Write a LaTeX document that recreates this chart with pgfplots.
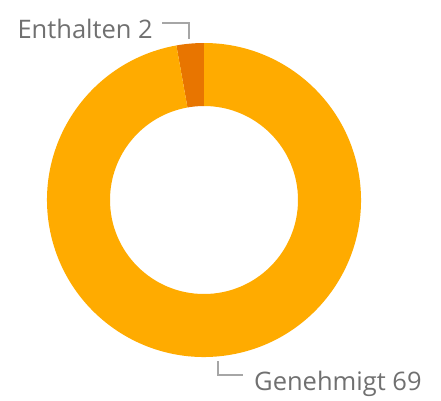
\documentclass[border=0pt]{standalone}
\usepackage{pgfplots}
\pgfplotsset{compat=1.18}
\usepackage{pgfplotstable}
\usepackage{fontspec}
\setmainfont{Open Sans}
\definecolor{cMain}{HTML}{FFAB00}
\definecolor{cSmall}{HTML}{E87500}
\definecolor{cText}{HTML}{707070}
\definecolor{cLine}{HTML}{A6A6A6}
\pgfplotstableread{
label value
Enthalten 2
Genehmigt 69
}\slices
\pgfplotstablegetelem{0}{value}\of\slices \let\vA\pgfplotsretval
\pgfplotstablegetelem{1}{value}\of\slices \let\vB\pgfplotsretval
\pgfmathsetmacro\tot{\vA+\vB}
\pgfmathsetmacro\aS{90}
\pgfmathsetmacro\aM{90+360*\vA/\tot}
\pgfmathsetmacro\aE{90+360}
\def\cx{204}\def\cy{200}\def\Ro{157}\def\Ri{94}
\begin{document}
\begin{tikzpicture}
\begin{axis}[x=1pt,y=1pt,xmin=0,xmax=441,ymin=0,ymax=400,hide axis,scale only axis,clip=false]
\path (axis cs:0,0) rectangle (axis cs:441,400);
% Enthalten slice
\fill[cSmall] (axis cs:{\cx+\Ro*cos(\aS)},{\cy+\Ro*sin(\aS)}) arc[start angle=\aS,end angle=\aM,radius=\Ro pt]
 -- (axis cs:{\cx+\Ri*cos(\aM)},{\cy+\Ri*sin(\aM)}) arc[start angle=\aM,end angle=\aS,radius=\Ri pt] -- cycle;
% Genehmigt slice
\fill[cMain] (axis cs:{\cx+\Ro*cos(\aM)},{\cy+\Ro*sin(\aM)}) arc[start angle=\aM,end angle=\aE,radius=\Ro pt]
 -- (axis cs:{\cx+\Ri*cos(\aE)},{\cy+\Ri*sin(\aE)}) arc[start angle=\aE,end angle=\aM,radius=\Ri pt] -- cycle;
% leader lines
\draw[cLine,line width=1.6pt] (axis cs:162,377) -- (axis cs:189,377) -- (axis cs:189,361);
\draw[cLine,line width=1.6pt] (axis cs:218,39) -- (axis cs:218,25) -- (axis cs:243,25);
% labels
\node[anchor=base east,inner sep=0pt,text=cText,font=\fontsize{25.5}{30}\selectfont] at (axis cs:153,362) {Enthalten \vA};
\node[anchor=base west,inner sep=0pt,text=cText,font=\fontsize{25.5}{30}\selectfont] at (axis cs:254,10) {Genehmigt \vB};
\end{axis}
\end{tikzpicture}
\end{document}
